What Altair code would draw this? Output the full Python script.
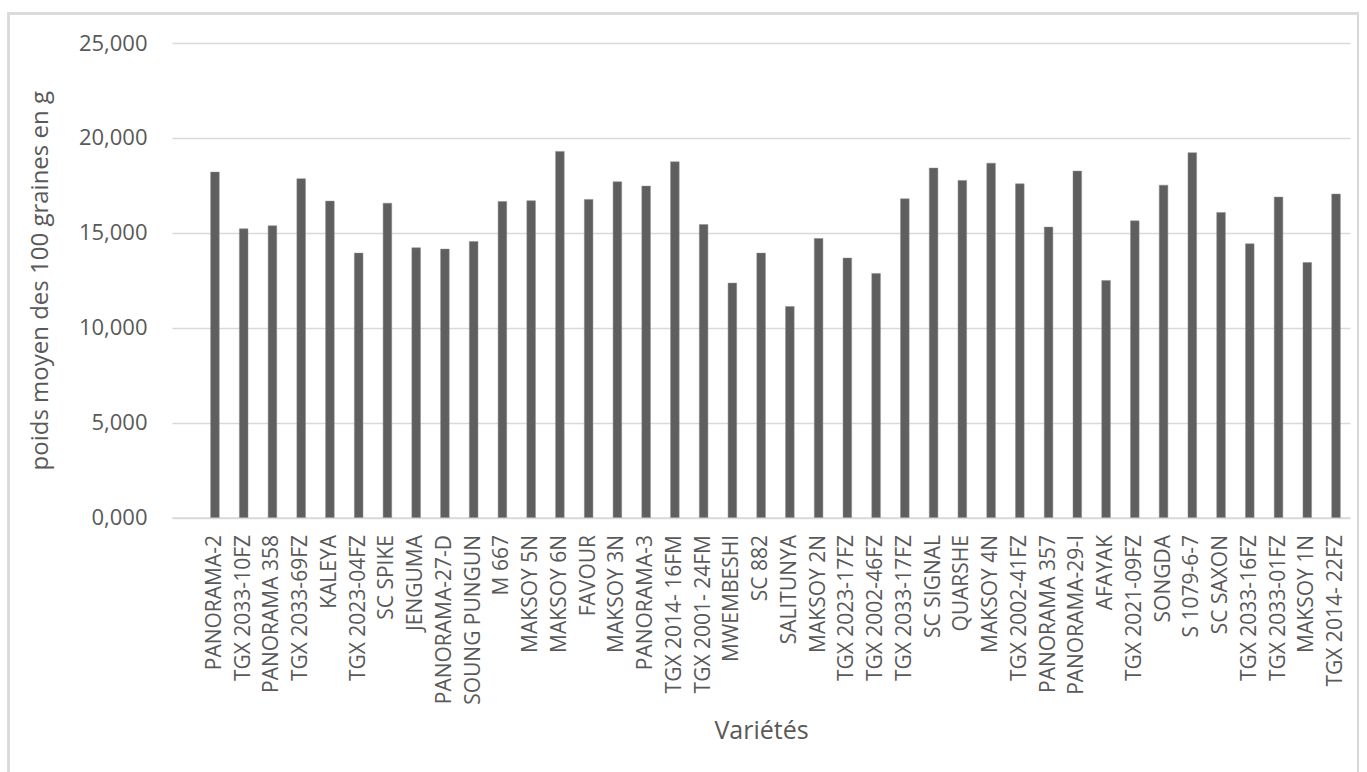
import altair as alt
import pandas as pd

# Variétés de soja et poids moyen de 100 graines (g)
varietes = [
    "PANORAMA-2", "TGX 2033-10FZ", "PANORAMA 358", "TGX 2033-69FZ", "KALEYA",
    "TGX 2023-04FZ", "SC SPIKE", "JENGUMA", "PANORAMA-27-D", "SOUNG PUNGUN",
    "M 667", "MAKSOY 5N", "MAKSOY 6N", "FAVOUR", "MAKSOY 3N",
    "PANORAMA-3", "TGX 2014- 16FM", "TGX 2001- 24FM", "MWEMBESHI", "SC 882",
    "SALITUNYA", "MAKSOY 2N", "TGX 2023-17FZ", "TGX 2002-46FZ", "TGX 2033-17FZ",
    "SC SIGNAL", "QUARSHE", "MAKSOY 4N", "TGX 2002-41FZ", "PANORAMA 357",
    "PANORAMA-29-I", "AFAYAK", "TGX 2021-09FZ", "SONGDA", "S 1079-6-7",
    "SC SAXON", "TGX 2033-16FZ", "TGX 2033-01FZ", "MAKSOY 1N", "TGX 2014- 22FZ",
]
poids = [
    18.20, 15.21, 15.37, 17.85, 16.67,
    13.93, 16.56, 14.21, 14.14, 14.54,
    16.65, 16.69, 19.29, 16.76, 17.69,
    17.46, 18.74, 15.44, 12.35, 13.93,
    11.12, 14.70, 13.67, 12.86, 16.79,
    18.41, 17.76, 18.67, 17.58, 15.30,
    18.25, 12.49, 15.63, 17.51, 19.22,
    16.07, 14.42, 16.88, 13.44, 17.04,
]
y_ticks = [0, 5, 10, 15, 20, 25]

df = pd.DataFrame({"variete": varietes, "poids": poids})

FONT = "Open Sans"
TEXT = "#595959"

bars = alt.Chart(df).mark_bar(color="#5f5f5f", stroke="#8a8a8a", strokeWidth=0.5).encode(
    x=alt.X(
        "variete:N",
        sort=varietes,
        title="Variétés",
        scale=alt.Scale(paddingInner=0.70, paddingOuter=0.84, align=0.8),
        axis=alt.Axis(
            labelAngle=-90,
            labelAlign="right",
            labelBaseline="middle",
            labelPadding=17,
            labelFontSize=21,
            labelFont=FONT,
            labelColor=TEXT,
            ticks=False,
            domain=True,
            domainColor="#d9d9d9",
            domainWidth=1.5,
            titleFont=FONT,
            titleFontSize=25,
            titleFontWeight="normal",
            titleColor=TEXT,
            titlePadding=14,
            labelLimit=300,
        ),
    ),
    y=alt.Y(
        "poids:Q",
        title="poids moyen des 100 graines en g",
        scale=alt.Scale(domain=[0, 25], nice=False),
        axis=alt.Axis(
            values=y_ticks,
            labelExpr="replace(format(datum.value, '.3f'), '.', ',')",
            labelFont=FONT,
            labelFontSize=22,
            labelColor=TEXT,
            labelPadding=25,
            ticks=False,
            domain=False,
            grid=True,
            gridColor="#d9d9d9",
            gridWidth=1.5,
            titleFont=FONT,
            titleFontSize=24,
            titleFontWeight="normal",
            titleColor=TEXT,
            titlePadding=26,
        ),
    ),
)

# light frame around the whole chart area
frame = alt.Chart(df).mark_rect(
    fill=None, stroke="#d9d9d9", strokeWidth=1.5, clip=False
).encode(
    x=alt.value(-163.5), x2=alt.value(1186),
    y=alt.value(-29.5), y2=alt.value(800),
)

chart = (
    alt.layer(frame, bars)
    .properties(
        width=1178,
        height=474.5,
        autosize=alt.AutoSizeParams(type="none"),
        padding={"left": 172, "top": 43, "right": 17, "bottom": 254},
        background="white",
    )
    .configure_view(stroke=None)
)

chart.save("out.html", embed_options={"renderer": "svg", "actions": False})
